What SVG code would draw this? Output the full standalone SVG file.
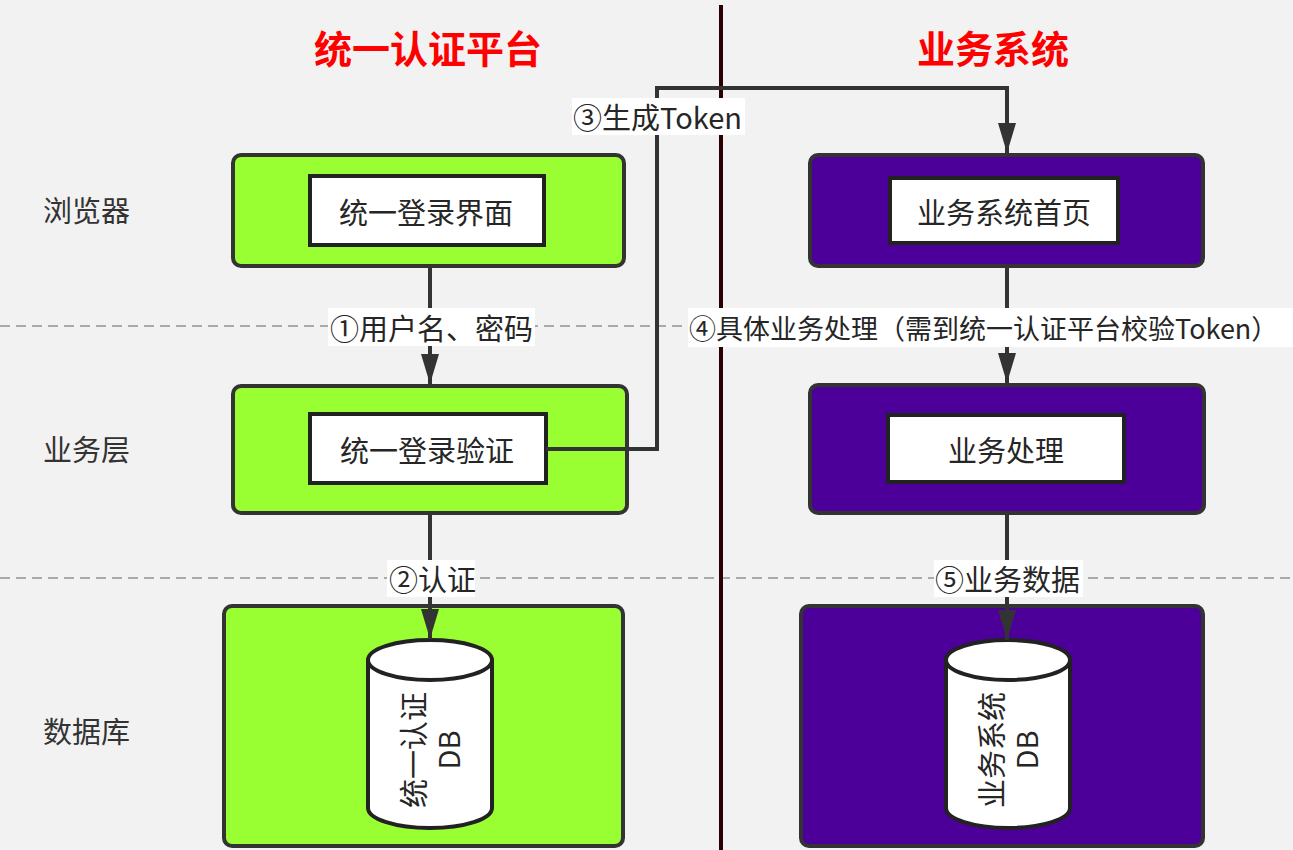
<svg xmlns="http://www.w3.org/2000/svg" width="1293" height="850" viewBox="0 0 1293 850">
<defs>
<style>
text{font-family:"Noto Sans CJK SC","Noto Sans",sans-serif;fill:#262626;}
.title{font-size:38px;font-weight:bold;fill:#ff0000;text-anchor:middle;}
.row{font-size:29px;fill:#333;}
.t{font-size:29px;text-anchor:middle;dominant-baseline:central;}
.lbl{font-size:29px;dominant-baseline:central;}
.green{fill:#99ff33;stroke:#333;stroke-width:4;}
.purple{fill:#4c0099;stroke:#333;stroke-width:4;}
.inner{fill:#fff;stroke:#222;stroke-width:4;}
.cyl{fill:#fff;stroke:#222;stroke-width:4;}
.dash{stroke:#aaa;stroke-width:2;stroke-dasharray:10 6;fill:none;}
.conn{stroke:#333;stroke-width:4;fill:none;}
.bg{fill:#fff;}
</style>
<marker id="arr" viewBox="0 0 30 18" refX="30" refY="9" markerWidth="30" markerHeight="18" markerUnits="userSpaceOnUse" orient="auto">
<path d="M0,0 L30,9 L0,18 Z" fill="#333"/>
</marker>
</defs>
<rect x="0" y="0" width="1293" height="850" fill="#f2f2f2"/>
<line class="dash" x1="0" y1="326" x2="1293" y2="326"/>
<line class="dash" x1="0" y1="578" x2="1293" y2="578"/>
<line x1="721" y1="5" x2="721" y2="850" stroke="#2b0000" stroke-width="4"/>
<text class="title" x="428" y="63">统一认证平台</text>
<text class="title" x="993" y="63">业务系统</text>
<text class="row" x="43" y="222">浏览器</text>
<text class="row" x="43" y="461">业务层</text>
<text class="row" x="43" y="743">数据库</text>
<g id="login-page">
<rect class="green" x="233" y="155" width="391" height="111" rx="8"/>
<rect class="inner" x="310" y="176" width="234" height="69"/>
<text class="t" x="426" y="211">统一登录界面</text>
</g>
<g id="login-verify">
<rect class="green" x="233" y="386" width="394" height="127" rx="8"/>
<rect class="inner" x="310" y="414" width="236" height="69"/>
<text class="t" x="427" y="449">统一登录验证</text>
</g>
<g id="auth-db">
<rect class="green" x="224" y="606" width="399" height="240" rx="8"/>
<path class="cyl" d="M368,660 A62,20 0 0 1 492,660 L492,808 A62,20 0 0 1 368,808 Z"/>
<path class="cyl" d="M368,660 A62,20 0 0 0 492,660" fill="none"/>
<g transform="translate(430,750) rotate(-90)">
<text class="t" x="0" y="-18">统一认证</text>
<text class="t" x="0" y="17">DB</text>
</g>
</g>
<g id="biz-home">
<rect class="purple" x="810" y="155" width="393" height="111" rx="8"/>
<rect class="inner" x="890" y="178" width="228" height="65"/>
<text class="t" x="1004" y="211">业务系统首页</text>
</g>
<g id="biz-process">
<rect class="purple" x="810" y="385" width="394" height="128" rx="8"/>
<rect class="inner" x="888" y="415" width="236" height="67"/>
<text class="t" x="1006" y="449">业务处理</text>
</g>
<g id="biz-db">
<rect class="purple" x="801" y="606" width="402" height="240" rx="8"/>
<path class="cyl" d="M946,660 A62,20 0 0 1 1070,660 L1070,808 A62,20 0 0 1 946,808 Z"/>
<path class="cyl" d="M946,660 A62,20 0 0 0 1070,660" fill="none"/>
<g transform="translate(1008,750) rotate(-90)">
<text class="t" x="0" y="-18">业务系统</text>
<text class="t" x="0" y="17">DB</text>
</g>
</g>
<g id="connectors">
<path class="conn" d="M430,266 L430,384" marker-end="url(#arr)"/>
<path class="conn" d="M430,513 L430,639" marker-end="url(#arr)"/>
<path class="conn" d="M546,449 L657,449 L657,88 L1007,88 L1007,153" marker-end="url(#arr)"/>
<path class="conn" d="M1007,266 L1007,383" marker-end="url(#arr)"/>
<path class="conn" d="M1007,513 L1007,640" marker-end="url(#arr)"/>
<rect class="bg" x="328" y="308" width="207" height="38"/>
<text class="lbl" x="330" y="327">①用户名、密码</text>
<rect class="bg" x="387" y="560" width="88" height="37"/>
<text class="lbl" x="389" y="578">②认证</text>
<rect class="bg" x="572" y="98" width="173" height="37"/>
<text class="lbl" x="573" y="116">③生成Token</text>
<rect class="bg" x="688" y="308" width="605" height="39"/>
<text class="lbl" x="689" y="327" style="font-size:27px">④具体业务处理（需到统一认证平台校验Token）</text>
<rect class="bg" x="934" y="560" width="149" height="37"/>
<text class="lbl" x="935" y="578">⑤业务数据</text>
</g>
</svg>
